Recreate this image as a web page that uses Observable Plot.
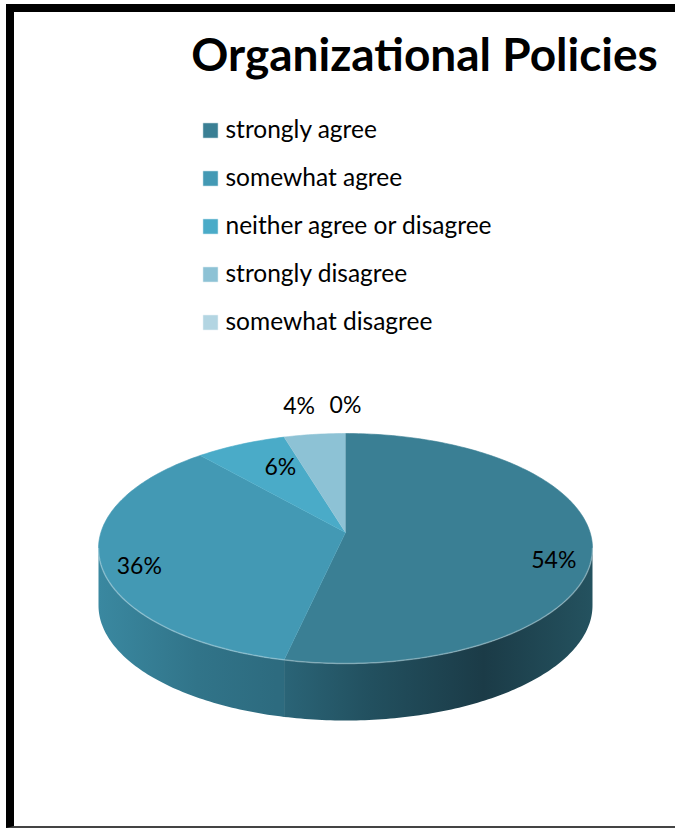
<!DOCTYPE html>
<html><head><meta charset="utf-8">
<script src="https://cdn.jsdelivr.net/npm/d3@7"></script>
<script src="https://cdn.jsdelivr.net/npm/@observablehq/plot@0.6"></script>
<style>
html,body{margin:0;padding:0;background:#fff;overflow:hidden}
#frame{position:absolute;left:6px;top:4px;width:700px;height:824px;border-left:8px solid #000;border-top:8px solid #000;border-bottom:2px solid #444;box-sizing:border-box}
#chart{position:absolute;left:0;top:0}
</style></head><body>
<div id="frame"></div><div id="chart"></div>
<script>
const title = "Organizational Policies";
const categories = ["strongly agree","somewhat agree","neither agree or disagree","strongly disagree","somewhat disagree"];
const percents = [54,36,6,4,0];
const labels = ["54%","36%","6%","4%","0%"];
const topColors = ["#3a7f94","#4399b4","#4aabc8","#8dc2d5","#b3d5e2"];

const W = 675, H = 829;
const cx = 345, cy = 548, rx = 247, ry = 115, depth = 57, apexDy = -16;

const data = categories.map((c, i) => ({category: c, value: percents[i], label: labels[i]}));
const arcs = d3.pie().sort(null).value(d => d.value).startAngle(0).endAngle(2 * Math.PI)(data);
const P = (a, dy = 0) => ({x: cx + rx * Math.sin(a), y: cy - ry * Math.cos(a) + dy});
const N = 360;

const topPts = [];
arcs.forEach(s => {
  if (s.endAngle - s.startAngle <= 0) return;
  const n = Math.max(2, Math.ceil((s.endAngle - s.startAngle) / (2 * Math.PI) * N));
  topPts.push({x: cx, y: cy + apexDy, category: s.data.category});
  for (let k = 0; k <= n; k++) {
    const a = s.startAngle + (s.endAngle - s.startAngle) * k / n;
    topPts.push({...P(a), category: s.data.category});
  }
});

const sides = [];
arcs.forEach((s, i) => {
  const a0 = Math.max(s.startAngle, Math.PI / 2), a1 = Math.min(s.endAngle, 3 * Math.PI / 2);
  if (a1 <= a0) return;
  const pts = [];
  const n = Math.max(2, Math.ceil((a1 - a0) / (2 * Math.PI) * N));
  for (let k = 0; k <= n; k++) pts.push(P(a0 + (a1 - a0) * k / n));
  for (let k = n; k >= 0; k--) pts.push(P(a0 + (a1 - a0) * k / n, depth));
  sides.push({i, pts});
});

const rim = [];
for (let k = 0; k <= 180; k++) rim.push(P(Math.PI / 2 + Math.PI * k / 180));

const labelPos = s => {
  const frac = s.data.value / 100;
  const a = (s.startAngle + s.endAngle) / 2;
  const [kx, ky] = frac >= 0.3 ? [0.85, 0.85] : frac >= 0.05 ? [0.62, 0.78] : [1.5, 1.24];
  return {x: cx + rx * kx * Math.sin(a), y: cy - ry * ky * Math.cos(a), label: s.data.label};
};
const labelData = arcs.map(labelPos);

const chart = Plot.plot({
  width: W, height: H, margin: 0,
  x: {domain: [0, W], range: [0, W], axis: null},
  y: {domain: [0, H], range: [0, H], axis: null},
  color: {domain: categories, range: topColors},
  style: {fontFamily: "Lato, 'Open Sans', sans-serif", background: "transparent", color: "#000"},
  marks: [
    ...sides.map(sd => Plot.line(sd.pts, {x: "x", y: "y", fill: `url(#side${sd.i})`, stroke: "none"})),
    Plot.line(topPts, {x: "x", y: "y", z: "category", fill: "category", stroke: "category", strokeWidth: 0.6}),
    Plot.line(rim, {x: "x", y: "y", stroke: "#ffffff", strokeOpacity: 0.3, strokeWidth: 1.5}),
    Plot.text(labelData, {x: "x", y: "y", text: "label", fontSize: 23, fill: "#000"}),
    Plot.text([title], {x: 424, y: 56, text: d => d, fontSize: 46, fontWeight: "bold", fill: "#000"}),
    Plot.dot(data, {x: 210, y: (d, i) => 130 + 48 * i, symbol: "square", r: 8.6, fill: "category", stroke: "#ffffff", strokeOpacity: 0.5, strokeWidth: 1}),
    Plot.text(data, {x: 225, y: (d, i) => 130 + 48 * i, text: "category", textAnchor: "start", fontSize: 24.5, fill: "#000"})
  ]
});

d3.select(chart).insert("defs", ":first-child").html(`
<linearGradient id="side0" gradientUnits="userSpaceOnUse" x1="98" y1="0" x2="592" y2="0">
  <stop offset="0.36" stop-color="#2b6679"/>
  <stop offset="0.55" stop-color="#22505f"/>
  <stop offset="0.78" stop-color="#1b3b47"/>
  <stop offset="1" stop-color="#24525f"/>
</linearGradient>
<linearGradient id="side1" gradientUnits="userSpaceOnUse" x1="98" y1="0" x2="592" y2="0">
  <stop offset="0" stop-color="#3a88a0"/>
  <stop offset="0.2" stop-color="#317489"/>
  <stop offset="0.36" stop-color="#2d6b7f"/>
</linearGradient>`);

document.getElementById("chart").appendChild(chart);
</script>
</body></html>
